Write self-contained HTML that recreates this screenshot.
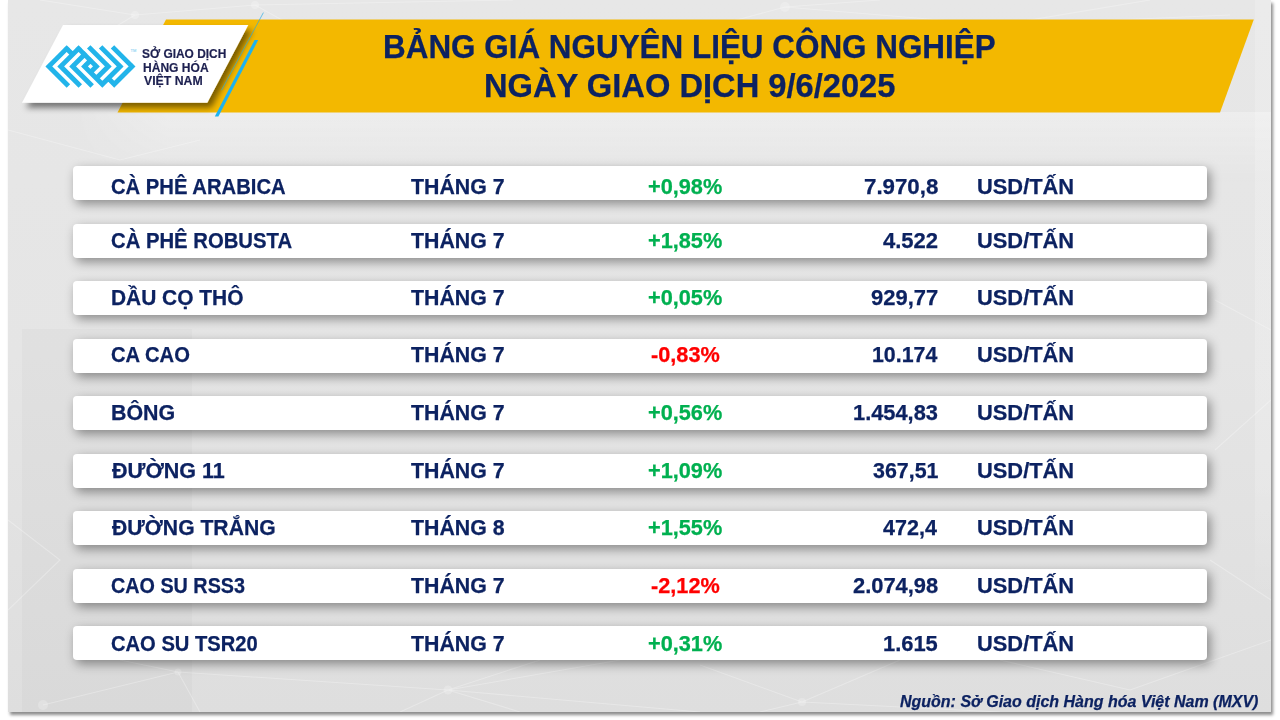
<!DOCTYPE html>
<html><head><meta charset="utf-8">
<style>
html,body{margin:0;padding:0;width:1280px;height:720px;overflow:hidden;background:#fff;}
body{position:relative;font-family:"Liberation Sans",sans-serif;}
#panel{position:absolute;left:8.3px;top:0px;width:1262.7px;height:711.9px;background:linear-gradient(#e7e7e7 0%,#e5e5e5 50%,#dedede 100%);box-shadow:2px 3px 3px rgba(0,0,0,0.45);overflow:hidden;}
svg{position:absolute;left:0;top:0;}
.tx{position:absolute;white-space:nowrap;color:#0c2261;transform-origin:0 0;-webkit-text-stroke:0.25px currentColor;}
.row{position:absolute;left:72.9px;width:1133.7px;height:34px;background:#fff;border-radius:4px;box-shadow:3px 4px 11px rgba(0,0,0,0.4);}
</style></head><body>
<div id="panel"><div style="position:absolute;left:14px;top:329px;width:170px;height:383px;background:rgba(0,0,0,0.018)"></div>
<div style="position:absolute;left:1247px;top:0;width:16px;height:600px;background:linear-gradient(rgba(255,255,255,0.18),rgba(255,255,255,0.18) 80%,rgba(255,255,255,0))"></div>
<div style="position:absolute;left:0;top:112px;width:1263px;height:70px;background:linear-gradient(rgba(255,255,255,0.3),rgba(255,255,255,0));-webkit-mask-image:linear-gradient(90deg,transparent 60px,#000 160px)"></div>
<svg width="1263" height="712" viewBox="8 0 1263 712" style="position:absolute;left:0;top:0">
<g stroke="#ffffff" stroke-opacity="0.28" stroke-width="1.1" fill="none">
<path d="M40 0L135 15L255 5L513 0M135 15L60 60M255 5L300 30M785 7L700 30M785 7L880 0M785 7L1000 25L1150 0M1000 25L1230 15"/>
<path d="M43 705L178 672L448 690L540 660M178 672L200 712M178 672L120 660M448 690L400 712M448 690L520 712M448 690L620 660M448 690L700 712M802 702L700 665M802 702L900 660M802 702L1000 712M802 702L760 712M1130 690L1271 640M1130 690L1000 660"/>
<path d="M8 130L120 160L200 140M1215 300L1271 330M1215 450L1271 400M8 520L60 560L8 610M1210 560L1271 600"/>
</g>
<g fill="#ffffff" fill-opacity="0.22">
<circle cx="135" cy="15" r="4"/><circle cx="255" cy="5" r="4"/><circle cx="785" cy="7" r="5"/><circle cx="43" cy="705" r="5"/><circle cx="178" cy="672" r="3.5"/><circle cx="448" cy="690" r="4.5"/><circle cx="802" cy="702" r="4"/>
</g>
</svg>
</div>
<svg width="1280" height="720" viewBox="0 0 1280 720">
  <defs>
    <filter id="sh" x="-20%" y="-20%" width="140%" height="160%">
      <feGaussianBlur in="SourceAlpha" stdDeviation="3.2"/>
      <feOffset dx="4" dy="4.5" result="b"/>
      <feComponentTransfer><feFuncA type="linear" slope="0.5"/></feComponentTransfer>
      <feMerge><feMergeNode/><feMergeNode in="SourceGraphic"/></feMerge>
    </filter>
  </defs>
  <polygon points="166,19.5 1253.8,19.5 1220,112.5 117.5,112.5" fill="#f3b800"/>
  <polygon points="63,25 248.3,25 207.3,102.8 22,102.8" fill="#fff" filter="url(#sh)"/>
  <line x1="263.4" y1="12.6" x2="221.5" y2="90.2" stroke="#29abe2" stroke-width="0.9" opacity="0.75"/>
  <polygon points="254.6,40 258.2,40 218.4,116.6 214.8,116.6" fill="#1eb2ee"/>
  <path transform="translate(90.45,66.4) rotate(45) scale(4.2)" fill="#22b4ea" d="M-7.58 0.42h1.16v7.16h-1.16zM-7.58 6.42h7.16v1.16h-7.16zM-7.58 0.42h2.16v1.16h-2.16zM-5.58 -1.58h1.16v7.16h-1.16zM-5.58 4.42h7.16v1.16h-7.16zM-5.58 -1.58h7.16v1.16h-7.16zM-3.58 -1.58h1.16v5.16h-1.16zM-3.58 2.42h7.16v1.16h-7.16zM-1.58 -1.58h1.16v3.16h-1.16zM6.42 -7.58h1.16v7.16h-1.16zM0.42 -7.58h7.16v1.16h-7.16zM5.42 -1.58h2.16v1.16h-2.16zM4.42 -5.58h1.16v7.16h-1.16zM-1.58 -5.58h7.16v1.16h-7.16zM-1.58 0.42h7.16v1.16h-7.16zM2.42 -3.58h1.16v5.16h-1.16zM-3.58 -3.58h7.16v1.16h-7.16zM0.42 -1.58h1.16v3.16h-1.16z"/><text x="130.5" y="52.3" font-family="Liberation Sans" font-size="4" fill="#5cc3ee">TM</text>
</svg>
<div class="row" style="top:165.9px"></div><div class="row" style="top:223.9px"></div><div class="row" style="top:280.9px"></div><div class="row" style="top:338.9px"></div><div class="row" style="top:395.9px"></div><div class="row" style="top:453.9px"></div><div class="row" style="top:510.9px"></div><div class="row" style="top:568.9px"></div><div class="row" style="top:625.9px"></div>
<div class="tx" style="left:111.06px;top:177px;font-weight:bold;font-size:21.5px;line-height:21.5px;transform:scaleX(0.9416);">CÀ PHÊ ARABICA</div><div class="tx" style="left:411.25px;top:177px;font-weight:bold;font-size:21.5px;line-height:21.5px;transform:scaleX(0.9910);">THÁNG 7</div><div class="tx" style="left:648.43px;top:177px;font-weight:bold;font-size:21.5px;line-height:21.5px;transform:scaleX(1.0100);color:#00b050">+0,98%</div><div class="tx" style="left:863.76px;top:177px;font-weight:bold;font-size:21.5px;line-height:21.5px;transform:scaleX(1.0357);">7.970,8</div><div class="tx" style="left:977.33px;top:177px;font-weight:bold;font-size:21.5px;line-height:21.5px;transform:scaleX(1.0167);">USD/TẤN</div><div class="tx" style="left:111.06px;top:231px;font-weight:bold;font-size:21.5px;line-height:21.5px;transform:scaleX(0.9435);">CÀ PHÊ ROBUSTA</div><div class="tx" style="left:411.25px;top:231px;font-weight:bold;font-size:21.5px;line-height:21.5px;transform:scaleX(0.9910);">THÁNG 7</div><div class="tx" style="left:648.43px;top:231px;font-weight:bold;font-size:21.5px;line-height:21.5px;transform:scaleX(1.0100);color:#00b050">+1,85%</div><div class="tx" style="left:883.00px;top:231px;font-weight:bold;font-size:21.5px;line-height:21.5px;transform:scaleX(1.0245);">4.522</div><div class="tx" style="left:977.33px;top:231px;font-weight:bold;font-size:21.5px;line-height:21.5px;transform:scaleX(1.0167);">USD/TẤN</div><div class="tx" style="left:111.03px;top:288px;font-weight:bold;font-size:21.5px;line-height:21.5px;transform:scaleX(0.9726);">DẦU CỌ THÔ</div><div class="tx" style="left:411.25px;top:288px;font-weight:bold;font-size:21.5px;line-height:21.5px;transform:scaleX(0.9910);">THÁNG 7</div><div class="tx" style="left:648.43px;top:288px;font-weight:bold;font-size:21.5px;line-height:21.5px;transform:scaleX(1.0100);color:#00b050">+0,05%</div><div class="tx" style="left:870.88px;top:288px;font-weight:bold;font-size:21.5px;line-height:21.5px;transform:scaleX(1.0219);">929,77</div><div class="tx" style="left:977.33px;top:288px;font-weight:bold;font-size:21.5px;line-height:21.5px;transform:scaleX(1.0167);">USD/TẤN</div><div class="tx" style="left:111.06px;top:345px;font-weight:bold;font-size:21.5px;line-height:21.5px;transform:scaleX(0.9390);">CA CAO</div><div class="tx" style="left:411.25px;top:345px;font-weight:bold;font-size:21.5px;line-height:21.5px;transform:scaleX(0.9910);">THÁNG 7</div><div class="tx" style="left:650.95px;top:345px;font-weight:bold;font-size:21.5px;line-height:21.5px;transform:scaleX(1.0100);color:#ff0000">-0,83%</div><div class="tx" style="left:871.81px;top:345px;font-weight:bold;font-size:21.5px;line-height:21.5px;transform:scaleX(0.9923);">10.174</div><div class="tx" style="left:977.33px;top:345px;font-weight:bold;font-size:21.5px;line-height:21.5px;transform:scaleX(1.0167);">USD/TẤN</div><div class="tx" style="left:111.00px;top:403px;font-weight:bold;font-size:21.5px;line-height:21.5px;transform:scaleX(0.9952);">BÔNG</div><div class="tx" style="left:411.25px;top:403px;font-weight:bold;font-size:21.5px;line-height:21.5px;transform:scaleX(0.9910);">THÁNG 7</div><div class="tx" style="left:648.43px;top:403px;font-weight:bold;font-size:21.5px;line-height:21.5px;transform:scaleX(1.0100);color:#00b050">+0,56%</div><div class="tx" style="left:853.03px;top:403px;font-weight:bold;font-size:21.5px;line-height:21.5px;transform:scaleX(1.0152);">1.454,83</div><div class="tx" style="left:977.33px;top:403px;font-weight:bold;font-size:21.5px;line-height:21.5px;transform:scaleX(1.0167);">USD/TẤN</div><div class="tx" style="left:112.00px;top:461px;font-weight:bold;font-size:21.5px;line-height:21.5px;transform:scaleX(1.0010);">ĐƯỜNG 11</div><div class="tx" style="left:411.25px;top:461px;font-weight:bold;font-size:21.5px;line-height:21.5px;transform:scaleX(0.9910);">THÁNG 7</div><div class="tx" style="left:648.43px;top:461px;font-weight:bold;font-size:21.5px;line-height:21.5px;transform:scaleX(1.0100);color:#00b050">+1,09%</div><div class="tx" style="left:872.60px;top:461px;font-weight:bold;font-size:21.5px;line-height:21.5px;transform:scaleX(0.9953);">367,51</div><div class="tx" style="left:977.33px;top:461px;font-weight:bold;font-size:21.5px;line-height:21.5px;transform:scaleX(1.0167);">USD/TẤN</div><div class="tx" style="left:112.00px;top:518px;font-weight:bold;font-size:21.5px;line-height:21.5px;transform:scaleX(0.9836);">ĐƯỜNG TRẮNG</div><div class="tx" style="left:411.25px;top:518px;font-weight:bold;font-size:21.5px;line-height:21.5px;transform:scaleX(0.9910);">THÁNG 8</div><div class="tx" style="left:648.43px;top:518px;font-weight:bold;font-size:21.5px;line-height:21.5px;transform:scaleX(1.0100);color:#00b050">+1,55%</div><div class="tx" style="left:883.30px;top:518px;font-weight:bold;font-size:21.5px;line-height:21.5px;transform:scaleX(1.0010);">472,4</div><div class="tx" style="left:977.33px;top:518px;font-weight:bold;font-size:21.5px;line-height:21.5px;transform:scaleX(1.0167);">USD/TẤN</div><div class="tx" style="left:111.08px;top:576px;font-weight:bold;font-size:21.5px;line-height:21.5px;transform:scaleX(0.9194);">CAO SU RSS3</div><div class="tx" style="left:411.25px;top:576px;font-weight:bold;font-size:21.5px;line-height:21.5px;transform:scaleX(0.9910);">THÁNG 7</div><div class="tx" style="left:650.95px;top:576px;font-weight:bold;font-size:21.5px;line-height:21.5px;transform:scaleX(1.0100);color:#ff0000">-2,12%</div><div class="tx" style="left:852.78px;top:576px;font-weight:bold;font-size:21.5px;line-height:21.5px;transform:scaleX(1.0183);">2.074,98</div><div class="tx" style="left:977.33px;top:576px;font-weight:bold;font-size:21.5px;line-height:21.5px;transform:scaleX(1.0167);">USD/TẤN</div><div class="tx" style="left:111.06px;top:634px;font-weight:bold;font-size:21.5px;line-height:21.5px;transform:scaleX(0.9374);">CAO SU TSR20</div><div class="tx" style="left:411.25px;top:634px;font-weight:bold;font-size:21.5px;line-height:21.5px;transform:scaleX(0.9910);">THÁNG 7</div><div class="tx" style="left:648.43px;top:634px;font-weight:bold;font-size:21.5px;line-height:21.5px;transform:scaleX(1.0100);color:#00b050">+0,31%</div><div class="tx" style="left:883.38px;top:634px;font-weight:bold;font-size:21.5px;line-height:21.5px;transform:scaleX(1.0173);">1.615</div><div class="tx" style="left:977.33px;top:634px;font-weight:bold;font-size:21.5px;line-height:21.5px;transform:scaleX(1.0167);">USD/TẤN</div><div class="tx" style="left:383.17px;top:31px;font-weight:bold;font-size:32.5px;line-height:32.5px;transform:scaleX(0.9667);">BẢNG GIÁ NGUYÊN LIỆU CÔNG NGHIỆP</div><div class="tx" style="left:483.84px;top:70px;font-weight:bold;font-size:32.5px;line-height:32.5px;transform:scaleX(1.0049);">NGÀY GIAO DỊCH 9/6/2025</div><div class="tx" style="left:900.40px;top:694px;font-weight:bold;font-style:italic;font-size:16px;line-height:16px;transform:scaleX(0.9994);">Nguồn: Sở Giao dịch Hàng hóa Việt Nam (MXV)</div><div class="tx" style="left:142.38px;top:47px;font-weight:bold;font-size:13px;line-height:13px;transform:scaleX(0.9167);color:#1d2050;-webkit-text-stroke:0.2px #1d2050">SỞ GIAO DỊCH</div><div class="tx" style="left:142.77px;top:61px;font-weight:bold;font-size:13px;line-height:13px;transform:scaleX(0.9271);color:#1d2050;-webkit-text-stroke:0.2px #1d2050">HÀNG HÓA</div><div class="tx" style="left:143.70px;top:74px;font-weight:bold;font-size:13px;line-height:13px;transform:scaleX(0.9443);color:#1d2050;-webkit-text-stroke:0.2px #1d2050">VIỆT NAM</div>
</body></html>
